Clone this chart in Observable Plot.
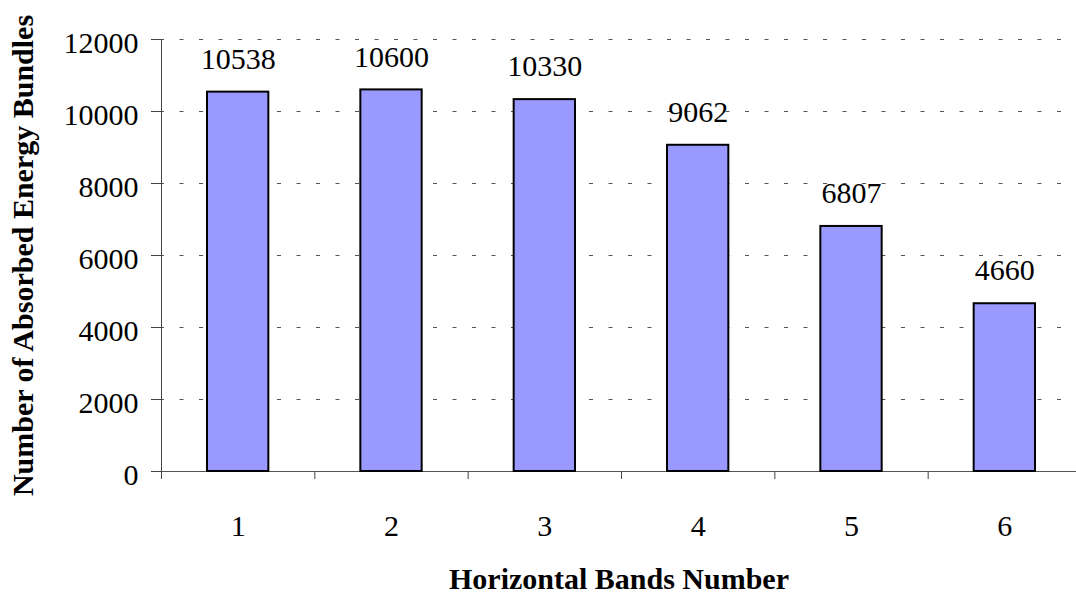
<!DOCTYPE html>
<html>
<head>
<meta charset="utf-8">
<script src="https://cdn.jsdelivr.net/npm/d3@7"></script>
<script src="https://cdn.jsdelivr.net/npm/@observablehq/plot@0.6"></script>
<style>
  html, body { margin: 0; padding: 0; background: white; }
</style>
</head>
<body>
<div id="chart"></div>
<script>
const bands = [1, 2, 3, 4, 5, 6];
const absorbed = [10538, 10600, 10330, 9062, 6807, 4660];
const yTicks = [0, 2000, 4000, 6000, 8000, 10000, 12000];
const bandEdges = [0.5, 1.5, 2.5, 3.5, 4.5, 5.5, 6.5];
const xTitle = "Horizontal Bands Number";
const yTitle = "Number of Absorbed Energy Bundles";

const data = bands.map((b, i) => ({band: b, value: absorbed[i]}));
const serif = "'Liberation Serif', 'Times New Roman', serif";

const chart = Plot.plot({
  width: 1076,
  height: 603,
  marginLeft: 161,
  marginRight: 0,
  marginTop: 39,
  marginBottom: 132,
  style: {fontFamily: serif, fontSize: "30px", background: "white", color: "black"},
  x: {domain: [0.5, 6.5], range: [161, 1081]},
  y: {domain: [0, 12000]},
  marks: [
    Plot.gridY(yTicks.filter(v => v > 0), {stroke: "#555", strokeOpacity: 1, strokeWidth: 1, strokeDasharray: "4,15.5", strokeDashoffset: 1}),
    Plot.ruleY([0], {stroke: "#555", strokeWidth: 1}),
    Plot.rectY(data, {x1: d => d.band - 0.2, x2: d => d.band + 0.2, y: "value", fill: "#9999FF", stroke: "black", strokeWidth: 2}),
    Plot.ruleX([0.5], {stroke: "#444", strokeWidth: 1}),
    Plot.axisY({ticks: yTicks, tickSize: 10, tickFormat: () => "", label: null, stroke: "#444"}),
    Plot.axisY({ticks: yTicks, tickSize: 0, tickPadding: 23, tickFormat: d => String(d), fontSize: 30, dy: 4, label: null}),
    Plot.axisX({ticks: bandEdges, tickSize: 8, tickFormat: () => "", label: null, stroke: "#444"}),
    Plot.axisX({ticks: bands, tickSize: 0, tickPadding: 43, tickFormat: d => String(d), fontSize: 30, label: null}),
    Plot.text(data, {x: "band", y: "value", text: d => String(d.value), dy: -33, fontSize: 30, fill: "black"}),
    Plot.text([yTitle], {frameAnchor: "left", textAnchor: "middle", dx: -138.5, dy: 0, rotate: -90, fontWeight: "bold", fontSize: 30, fill: "black"}),
    Plot.text([xTitle], {frameAnchor: "bottom", textAnchor: "middle", dy: 117, fontWeight: "bold", fontSize: 30, fill: "black"})
  ]
});
document.getElementById("chart").append(chart);
</script>
</body>
</html>
